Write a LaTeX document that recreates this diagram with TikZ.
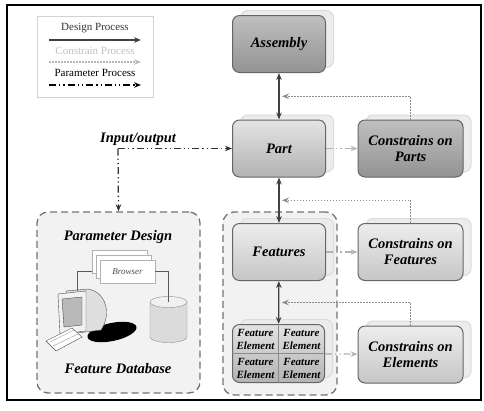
\documentclass[tikz,border=0pt]{standalone}
\usepackage{fontspec}
\setmainfont{Liberation Serif}
\usepackage{tikz}
\usetikzlibrary{positioning,shapes,shadows,calc}
\usetikzlibrary{arrows.meta}

\begin{document}
\begin{tikzpicture}[x=1pt,y=-1pt,>={Stealth[length=7pt,width=5.5pt]}]
		\tikzset{
			procnode/.style={draw=black!60,line width=1pt,rounded corners=7pt,
					minimum width=93pt,minimum height=57pt,align=center,
					font=\fontsize{14.5}{16}\selectfont\bfseries\itshape,
					general shadow={shadow xshift=8pt,shadow yshift=5pt,fill=gray!15,draw=gray!28}},
			darknode/.style={procnode,top color=gray!50,bottom color=gray!85},
			midnode/.style={procnode,top color=gray!22,bottom color=gray!60},
			lightnode/.style={procnode,top color=gray!14,bottom color=gray!45},
			groupbox/.style={draw=black!55,line width=1.3pt,dash pattern=on 7pt off 4pt,
					rounded corners=11pt,fill=gray!10},
			title/.style={font=\fontsize{14.5}{16}\selectfont\bfseries\itshape},
			cell/.style={align=center,inner sep=0pt,font=\fontsize{11}{13}\selectfont\bfseries\itshape},
			legtext/.style={font=\fontsize{11}{12}\selectfont},
			design/.style={line width=1.3pt,black!75},
			constrain/.style={line width=1.5pt,black!45,dash pattern=on 1.6pt off 1.4pt},
			param/.style={line width=1.3pt,dash pattern=on 7pt off 3pt on 1.3pt off 3pt on 1.3pt off 3pt},
		}
		\useasboundingbox (0,0) rectangle (484,410);
		\draw[line width=1.8pt] (7,5) rectangle (481,400);

		% legend
		\node[draw=gray!35,line width=1pt,minimum width=116pt,minimum height=81pt] (legend) at (95,56.5) {};
		\node[legtext,text=black!80] (ldesign) at (95,28) {Design Process};
		\node[legtext,text=gray!50] (lconstr) at (95,51) {Constrain Process};
		\node[legtext] (lparam) at (95,73) {Parameter Process};
		\coordinate (d1) at (49,40); \coordinate (d2) at (141,40);
		\coordinate (c1) at (49,62); \coordinate (c2) at (141,62);
		\coordinate (p1) at (49,85); \coordinate (p2) at (141,85);
		\draw[design,->] (d1) -- (d2);
		\draw[constrain,gray!55,->] (c1) -- (c2);
		\draw[param,->] (p1) -- (p2);

		% groups
		\node[groupbox,minimum width=163pt,minimum height=181pt] (pdesign) at (118.5,302.5) {};
		\node[groupbox,minimum width=114pt,minimum height=183pt] (fgroup) at (280,303.5) {};

		% process blocks
		\node[darknode] (asm) at (279,44) {Assembly};
		\node[midnode] (part) at (279,148.5) {Part};
		\node[lightnode] (feat) at (279,252) {Features};
		\node[midnode,minimum width=92pt,minimum height=58pt] (elem) at (278.5,353.5) {};
		\draw[black!45,line width=0.8pt] (elem.north) -- (elem.south) (elem.west) -- (elem.east);
		\foreach \dx/\dy [count=\n] in {-1/-1,1/-1,-1/1,1/1}
			\node[cell] (fe\n) at ($(elem.center)+(23*\dx,14.5*\dy)$) {Feature\\Element};

		\node[darknode,minimum width=105pt] (cpart) at (410.5,148.5) {Constrains on\\Parts};
		\node[lightnode,minimum width=105pt] (cfeat) at (410.5,252) {Constrains on\\Features};
		\node[lightnode,minimum width=105pt] (celem) at (410.5,354.5) {Constrains on\\Elements};

		% design flow
		\draw[design,<->] (asm) -- (part);
		\draw[design,<->] (part) -- (feat);
		\draw[design,<->] (feat) -- (elem);

		% constrains
		\coordinate (ap) at ($(asm.south)!0.5!(part.north)+(3,0)$);
		\coordinate (pf) at ($(part.south)!0.5!(feat.north)+(3,0)$);
		\coordinate (ef) at ($(feat.south)!0.5!(elem.north)+(3,0)$);
		\foreach \c/\m in {cpart/ap,cfeat/pf,celem/ef}
			\draw[constrain,->] (\c.north) |- (\m);
		\foreach \a/\b in {part/cpart,feat/cfeat,elem/celem}
			\draw[param,gray!60,->] (\a) -- (\b);

		% input / output
		\node[title] (io) at (138,139) {Input/output};
		\coordinate (iostart) at (118,148.5);
		\draw[param,black!80,->] (iostart) -- (part);
		\draw[param,black!80,->] (iostart) -- (pdesign.north);

		% parameter design panel
		\node[title] (ptitle) at (118,237) {Parameter Design};
		\node[title] (dbtitle) at (118,369) {Feature Database};
		\foreach \k in {2,1}
			\node[draw=gray!60,fill=white,minimum width=55pt,minimum height=23pt] (win\k) at (127.5-4*\k,271.5-5*\k) {};
		\node[draw=gray!60,fill=white,minimum width=55pt,minimum height=23pt,
			font=\fontsize{9}{10}\selectfont\itshape,text=black!70] (win0) at (127.5,271.5) {Browser};

		% database
		\coordinate (dbtop) at (168.5,302);
		\draw[black!45,fill=gray!28] (150,302) -- (150,337)
			arc[start angle=180,end angle=360,x radius=18.5pt,y radius=5.5pt] -- (187,302) -- cycle;
		\draw[black!45,fill=gray!12] (dbtop) ellipse [x radius=18.5pt,y radius=5.5pt];

		% computer
		\fill[black] (112,332) ellipse [x radius=25pt,y radius=9pt,rotate=12];
		\draw[black!70,fill=gray!25] (66,291) -- (88,289) .. controls (106,292) and (112,314) .. (101,330)
			-- (70,334) -- cycle;
		\draw[black!70,fill=gray!10] (58,294) -- (86,291) -- (86,331) -- (60,334) -- cycle;
		\draw[black!70,fill=gray!55] (62,299) -- (82,297) -- (82,325) -- (64,327) -- cycle;
		\draw[black!70,fill=white] (46,341) -- (72,328) -- (82,337) -- (56,351) -- cycle;
		\draw[black!40] (50,342) -- (74,330) (53,346) -- (78,334);
		\coordinate (mon) at (77,291);
		\draw[gray!70!black,line width=0.7pt] (win2.west |- win0.west) -| (mon);
		\draw[gray!70!black,line width=0.7pt] (win0.east) -| (dbtop);
	\end{tikzpicture}
\end{document}
